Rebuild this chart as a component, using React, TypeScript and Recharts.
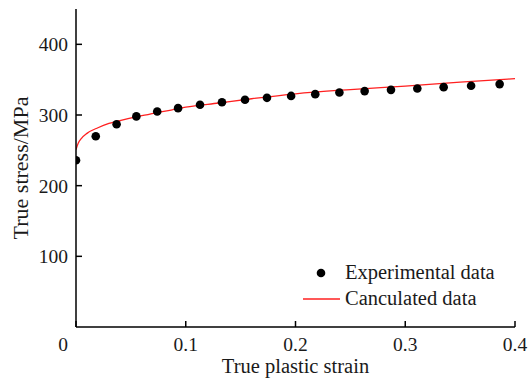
import React from "react";
import { ComposedChart, Line, Scatter, XAxis, YAxis } from "recharts";

// experimental points (true plastic strain, true stress MPa)
const expStrain = [
  0.0, 0.018, 0.037, 0.055, 0.074, 0.093, 0.113, 0.133, 0.154, 0.174,
  0.196, 0.218, 0.24, 0.263, 0.287, 0.311, 0.335, 0.36, 0.386,
];
const expStress = [
  236, 270, 287, 298, 305, 309.7, 314.4, 318, 321.5, 324.3, 327, 329.5,
  331.9, 333.8, 335.6, 337.6, 339.4, 341.3, 343.7,
];

// fitted curve
const fitStrain = [
  0, 0.002, 0.005, 0.01, 0.02, 0.03, 0.04, 0.06, 0.08, 0.1, 0.13, 0.16, 0.2,
  0.25, 0.3, 0.35, 0.4,
];
const fitStress = [
  251, 260, 267, 274, 282, 288, 292, 299, 305, 311, 317, 323, 330, 336, 341,
  346.5, 351.5,
];

const xTicks = [0, 0.1, 0.2, 0.3, 0.4];
const yTicks = [100, 200, 300, 400];
const legendNames = ["Experimental data", "Canculated data"];

const expData = expStrain.map((x, i) => ({ x, y: expStress[i] }));
const fitData = fitStrain.map((x, i) => ({ x, y: fitStress[i] }));

const font = '"Liberation Serif", "Times New Roman", serif';
const ink = "#1a1a1a";
const red = "#ff2020";

function XTick(props: any) {
  const { x, y, payload } = props;
  const v = payload.value;
  const dx = v === 0 ? -13 : 0;
  return (
    <text
      x={x + dx}
      y={y}
      dy="0.71em"
      textAnchor="middle"
      fill={ink}
      fontSize={19.5}
      fontFamily={font}
    >
      {String(v)}
    </text>
  );
}

function YTitle(props: any) {
  const vb = props.viewBox;
  const cy = vb.y + vb.height / 2;
  const cx = 28;
  return (
    <text
      x={cx}
      y={cy}
      transform={`rotate(-90, ${cx}, ${cy})`}
      textAnchor="middle"
      fill={ink}
      fontSize={22}
      fontFamily={font}
    >
      True stress/MPa
    </text>
  );
}

function LegendBox() {
  return (
    <svg
      width={529}
      height={378}
      style={{ position: "absolute", left: 0, top: 0, pointerEvents: "none" }}
    >
      <circle cx={321} cy={273} r={4.3} fill="#000" />
      <text x={345} y={278.5} fill={ink} fontSize={20.5} fontFamily={font}>
        {legendNames[0]}
      </text>
      <line x1={303} x2={340} y1={299} y2={299} stroke={red} strokeWidth={1.3} />
      <text x={345} y={304.5} fill={ink} fontSize={20.5} fontFamily={font}>
        {legendNames[1]}
      </text>
    </svg>
  );
}

export default function App() {
  return (
    <div style={{ position: "absolute", left: 0, top: 0, width: 529, height: 378, background: "#fff" }}>
      <ComposedChart
        width={529}
        height={378}
        margin={{ top: 9, right: 14, left: 0, bottom: 0 }}
      >
        <XAxis
          dataKey="x"
          type="number"
          domain={[0, 0.4]}
          ticks={xTicks}
          allowDataOverflow
          height={51}
          stroke="#000"
          strokeWidth={1.5}
          tickSize={-6}
          tickMargin={16}
          tick={<XTick />}
          label={{
            value: "True plastic strain",
            position: "insideBottom",
            offset: 5,
            fill: ink,
            fontSize: 20.5,
            fontFamily: font,
          }}
        />
        <XAxis
          xAxisId="top"
          orientation="top"
          type="number"
          domain={[0, 0.4]}
          height={0}
          tick={false}
          tickLine={false}
          stroke="#000"
          strokeWidth={1.5}
        />
        <YAxis
          dataKey="y"
          type="number"
          domain={[0, 450]}
          ticks={yTicks}
          allowDataOverflow
          width={76}
          stroke="#000"
          strokeWidth={1.5}
          tickSize={-6}
          tickMargin={14}
          tick={{ fill: ink, fontSize: 19.5, fontFamily: font }}
          label={<YTitle />}
        />
        <YAxis
          yAxisId="right"
          orientation="right"
          type="number"
          domain={[0, 450]}
          width={0}
          tick={false}
          tickLine={false}
          stroke="#000"
          strokeWidth={1.5}
        />
        <Line
          data={fitData}
          dataKey="y"
          type="monotone"
          stroke={red}
          strokeWidth={1.3}
          dot={false}
          isAnimationActive={false}
        />
        <Scatter
          data={expData}
          dataKey="y"
          fill="#000"
          shape={(p: any) => <circle cx={p.cx} cy={p.cy} r={4.3} fill="#000" />}
          isAnimationActive={false}
        />
      </ComposedChart>
      <LegendBox />
    </div>
  );
}
